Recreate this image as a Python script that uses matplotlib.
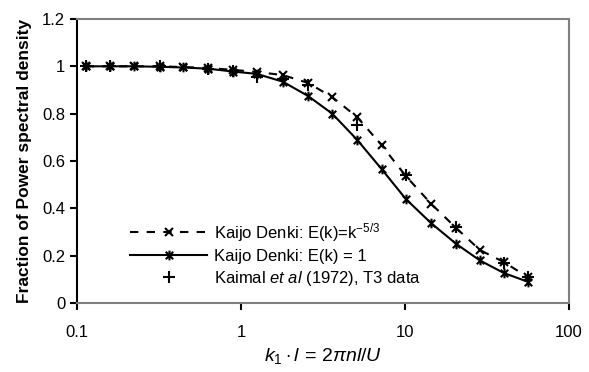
import numpy as np
import matplotlib
matplotlib.use("Agg")
import matplotlib.pyplot as plt
from matplotlib.path import Path
from matplotlib.ticker import FixedLocator, FixedFormatter, NullLocator

plt.rcParams['font.family'] = ['Liberation Sans', 'DejaVu Sans']
plt.rcParams['mathtext.fontset'] = 'custom'
plt.rcParams['mathtext.rm'] = 'Liberation Sans'
plt.rcParams['mathtext.it'] = 'Liberation Sans:italic'

# =================================
# Data
# =================================
k_values = [0.113, 0.159, 0.222, 0.32, 0.44, 0.63, 0.89, 1.25, 1.8, 2.56,
            3.6, 5.1, 7.2, 10.1, 14.4, 20.5, 28.6, 40, 56]

# Kaijo Denki, E(k) = k^-5/3 (dashed)
frac_k53 = [1.0, 1.0, 1.0, 1.0, 0.997, 0.993, 0.985, 0.976, 0.963, 0.93,
            0.87, 0.786, 0.667, 0.537, 0.42, 0.317, 0.224, 0.173, 0.11]

# Kaijo Denki, E(k) = 1 (solid)
frac_flat = [1.0, 1.0, 1.0, 0.998, 0.995, 0.99, 0.978, 0.968, 0.935, 0.875,
             0.80, 0.69, 0.566, 0.44, 0.338, 0.25, 0.18, 0.127, 0.09]

# Kaimal et al (1972), T3 data
kaimal_k = [0.113, 0.159, 0.32, 0.63, 0.89, 1.25, 1.8, 2.56, 5.1, 10.1, 20.5, 40, 56]
kaimal_frac = [1.0, 1.0, 1.0, 0.99, 0.98, 0.955, 0.945, 0.92, 0.75, 0.54, 0.32, 0.17, 0.11]

y_ticks = [0, 0.2, 0.4, 0.6, 0.8, 1.0, 1.2]
y_tick_labels = ['0', '0.2', '0.4', '0.6', '0.8', '1', '1.2']
x_ticks = [0.1, 1, 10, 100]
x_tick_labels = ['0.1', '1', '10', '100']

# Excel-like star marker: an x with a vertical bar through it
star = Path([(-1, -1), (1, 1), (-1, 1), (1, -1), (0, -1.3), (0, 1.3)],
            [Path.MOVETO, Path.LINETO, Path.MOVETO, Path.LINETO,
             Path.MOVETO, Path.LINETO])

# =================================
# Plot
# =================================
fig = plt.figure(figsize=(5.89, 3.72), dpi=100)
ax = fig.add_axes([0.1307, 0.1855, 0.966 - 0.1307, 0.949 - 0.1855])

ax.plot(k_values, frac_k53, color='black', lw=1.5, linestyle=(0, (4, 4)),
        marker='x', markersize=6, markeredgewidth=1.5,
        label=r'Kaijo Denki: E(k)=k$^{-5/3}$')
ax.plot(k_values, frac_flat, color='black', lw=1.5, linestyle='-',
        marker=star, markersize=7, markeredgewidth=1.5,
        label='Kaijo Denki: E(k) = 1')
ax.plot(kaimal_k, kaimal_frac, color='black', linestyle='none',
        marker='+', markersize=8, markeredgewidth=1.5,
        label=r'Kaimal $et$ $al$ (1972), T3 data')

ax.set_xscale('log')
ax.set_xlim(0.1, 100)
ax.set_ylim(0, 1.2)

ax.xaxis.set_major_locator(FixedLocator(x_ticks))
ax.xaxis.set_major_formatter(FixedFormatter(x_tick_labels))
ax.xaxis.set_minor_locator(NullLocator())
ax.yaxis.set_major_locator(FixedLocator(y_ticks))
ax.yaxis.set_major_formatter(FixedFormatter(y_tick_labels))

ax.tick_params(axis='both', labelsize=12, direction='out', length=5, width=1.5,
               color='black')
ax.tick_params(axis='x', pad=11)

for side in ['top', 'right', 'bottom']:
    ax.spines[side].set_color('#808080')
    ax.spines[side].set_linewidth(1.5)
ax.spines['left'].set_color('black')
ax.spines['left'].set_linewidth(1.5)

ax.set_ylabel('Fraction of Power spectral density', fontsize=12.5,
              fontweight='bold', labelpad=7)
ax.set_xlabel(r'$k_1 \cdot l\, =\, 2\pi nl/U$', fontsize=14, labelpad=4)

ax.legend(loc='lower left', bbox_to_anchor=(0.085, 0.012), frameon=False,
          fontsize=12, handlelength=4.6, handletextpad=0.4, labelspacing=0.3,
          borderaxespad=0.3)

plt.savefig('out.png', dpi=100)
